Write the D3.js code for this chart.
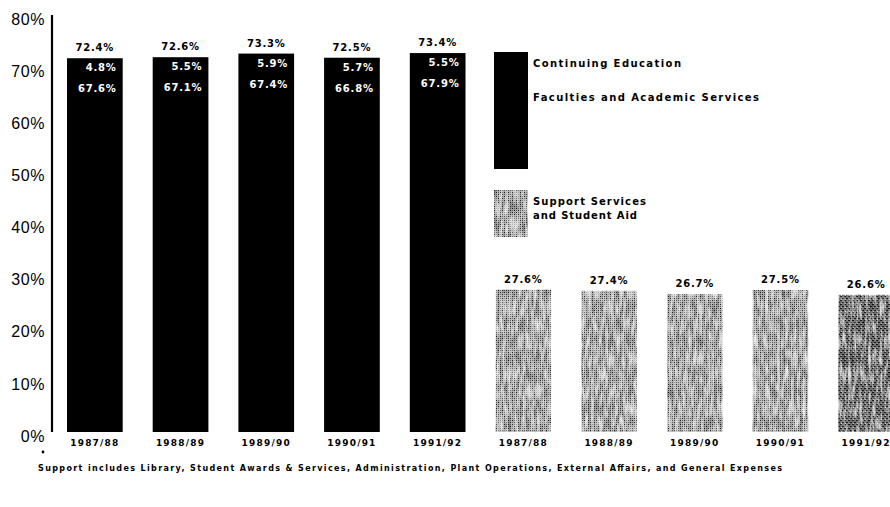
<!DOCTYPE html>
<html>
<head>
<meta charset="utf-8">
<script src="https://cdn.jsdelivr.net/npm/d3@7"></script>
<style>
  body { margin: 0; background: #fff; }
  svg { display: block; font-family: "DejaVu Sans", sans-serif; }
</style>
</head>
<body>
<svg id="chart"></svg>
<script>
var width = 890,
    height = 507,
    margin = {top: 19, left: 52, bottom: 75};

// data
let years = ["1987/88", "1988/89", "1989/90", "1990/91", "1991/92"];
let continuing = [4.8, 5.5, 5.9, 5.7, 5.5];
let faculties = [67.6, 67.1, 67.4, 66.8, 67.9];
let academicTotal = [72.4, 72.6, 73.3, 72.5, 73.4];
let support = [27.6, 27.4, 26.7, 27.5, 26.6];
let yTicks = [0, 10, 20, 30, 40, 50, 60, 70, 80];
let footnote = "Support includes Library, Student Awards & Services, Administration, Plant Operations, External Affairs, and General Expenses";

let svg = d3.select("#chart")
    .attr("width", width)
    .attr("height", height);

// stipple pattern for support bars
let defs = svg.append("defs");
let pat = defs.append("pattern")
    .attr("id", "stipple")
    .attr("width", 4).attr("height", 4)
    .attr("patternUnits", "userSpaceOnUse");
pat.append("rect").attr("width", 4).attr("height", 4).attr("fill", "#bdbdbd");
pat.append("rect").attr("width", 1).attr("height", 1).attr("fill", "#222");
pat.append("rect").attr("x", 2).attr("y", 2).attr("width", 1).attr("height", 1).attr("fill", "#222");
pat.append("rect").attr("x", 2).attr("y", 0).attr("width", 1).attr("height", 1).attr("fill", "#666");
pat.append("rect").attr("x", 0).attr("y", 2).attr("width", 1).attr("height", 1).attr("fill", "#666");
let pat2 = defs.append("pattern")
    .attr("id", "stippleDark")
    .attr("width", 4).attr("height", 4)
    .attr("patternUnits", "userSpaceOnUse");
pat2.append("rect").attr("width", 4).attr("height", 4).attr("fill", "#7a7a7a");
pat2.append("rect").attr("width", 2).attr("height", 1).attr("fill", "#1a1a1a");
pat2.append("rect").attr("x", 2).attr("y", 2).attr("width", 2).attr("height", 1).attr("fill", "#1a1a1a");
pat2.append("rect").attr("x", 1).attr("y", 3).attr("width", 1).attr("height", 1).attr("fill", "#ccc");

// streaky grain on top of the stipple
let flt = defs.append("filter").attr("id", "grain")
    .attr("x", 0).attr("y", 0).attr("width", 1).attr("height", 1);
flt.append("feTurbulence")
    .attr("type", "fractalNoise")
    .attr("baseFrequency", "0.35 0.06")
    .attr("numOctaves", 3)
    .attr("seed", 11)
    .attr("result", "noise");
flt.append("feColorMatrix")
    .attr("in", "noise")
    .attr("type", "matrix")
    .attr("values", "0 0 0 0 1  0 0 0 0 1  0 0 0 0 1  -1.8 0 0 0 0.95")
    .attr("result", "light");
flt.append("feColorMatrix")
    .attr("in", "noise")
    .attr("type", "matrix")
    .attr("values", "0 0 0 0 0  0 0 0 0 0  0 0 0 0 0  1.8 0 0 0 -0.95")
    .attr("result", "dark");
let merge = flt.append("feMerge").attr("result", "merged");
merge.append("feMergeNode").attr("in", "SourceGraphic");
merge.append("feMergeNode").attr("in", "light");
merge.append("feMergeNode").attr("in", "dark");
flt.append("feComposite").attr("in", "merged").attr("in2", "SourceGraphic").attr("operator", "in");

let keys = years.map(d => "A" + d).concat(years.map(d => "S" + d));

let x = d3.scaleBand()
    .domain(keys)
    .range([margin.left, margin.left + 857])
    .paddingInner(0.35)
    .paddingOuter(0.175);

let y = d3.scaleLinear()
    .domain([0, 80])
    .range([height - margin.bottom, margin.top]);

// tick labels sit a touch lower than the bar scale near the bottom
let yLab = d3.scaleLinear()
    .domain([0, 80])
    .range([height - margin.bottom + 4, margin.top]);

// y axis
let yAxis = svg.append("g")
    .attr("transform", `translate(${margin.left}, 0)`)
    .call(d3.axisLeft(yLab).tickValues(yTicks).tickFormat(d => d + "%").tickSize(0).tickPadding(7));
yAxis.select(".domain").remove();
yAxis.selectAll("text")
    .attr("font-size", 16)
    .attr("letter-spacing", 0.6)
    .attr("fill", "#000");
svg.append("line")
    .attr("x1", margin.left).attr("x2", margin.left)
    .attr("y1", y(0)).attr("y2", margin.top - 4)
    .attr("stroke", "#000")
    .attr("stroke-width", 2.2);

// academic bars
let acad = years.map((d, i) => ({key: "A" + d, year: d, total: academicTotal[i], ce: continuing[i], fac: faculties[i]}));
let sup = years.map((d, i) => ({key: "S" + d, year: d, value: support[i], i: i}));

svg.append("g").selectAll("rect")
    .data(acad)
    .join("rect")
    .attr("x", d => x(d.key))
    .attr("y", d => y(d.total))
    .attr("width", x.bandwidth())
    .attr("height", d => y(0) - y(d.total))
    .attr("fill", "#000");

svg.append("g").selectAll("rect")
    .data(sup)
    .join("rect")
    .attr("x", d => x(d.key))
    .attr("y", d => y(d.value))
    .attr("width", x.bandwidth())
    .attr("height", d => y(0) - y(d.value))
    .attr("fill", d => d.i == 4 ? "url(#stippleDark)" : "url(#stipple)")
    .attr("filter", "url(#grain)");

// labels on top
let topLabels = svg.append("g")
    .attr("font-size", 10)
    .attr("font-weight", "bold")
    .attr("letter-spacing", 0.8)
    .attr("text-anchor", "middle");
topLabels.selectAll(".ta")
    .data(acad)
    .join("text")
    .attr("class", "ta")
    .attr("x", d => x(d.key) + x.bandwidth() / 2)
    .attr("y", d => y(d.total) - 7)
    .text(d => d.total.toFixed(1) + "%");
topLabels.selectAll(".ts")
    .data(sup)
    .join("text")
    .attr("class", "ts")
    .attr("x", d => x(d.key) + x.bandwidth() / 2)
    .attr("y", d => y(d.value) - 7)
    .text(d => d.value.toFixed(1) + "%");

// labels inside academic bars
let inside = svg.append("g")
    .attr("font-size", 10)
    .attr("font-weight", "bold")
    .attr("letter-spacing", 0.8)
    .attr("fill", "#fff")
    .attr("text-anchor", "end");
inside.selectAll(".ce")
    .data(acad)
    .join("text")
    .attr("class", "ce")
    .attr("x", d => x(d.key) + x.bandwidth() - 6)
    .attr("y", d => y(d.total) + 13)
    .text(d => d.ce.toFixed(1) + "%");
inside.selectAll(".fac")
    .data(acad)
    .join("text")
    .attr("class", "fac")
    .attr("x", d => x(d.key) + x.bandwidth() - 6)
    .attr("y", d => y(d.total) + 34)
    .text(d => d.fac.toFixed(1) + "%");

// x labels
svg.append("g")
    .attr("font-size", 9)
    .attr("font-weight", "bold")
    .attr("letter-spacing", 1.2)
    .attr("text-anchor", "middle")
    .selectAll("text")
    .data(acad.concat(sup))
    .join("text")
    .attr("x", d => x(d.key) + x.bandwidth() / 2)
    .attr("y", 446)
    .text(d => d.year);

// legend
let lg = svg.append("g");
lg.append("rect").attr("x", 494).attr("y", 52).attr("width", 34).attr("height", 117).attr("fill", "#000");
lg.append("rect").attr("x", 494).attr("y", 190).attr("width", 34).attr("height", 47)
    .attr("fill", "url(#stipple)").attr("filter", "url(#grain)");
let legendText = [
    {t: "Continuing Education", y: 67, len: 148},
    {t: "Faculties and Academic Services", y: 101, len: 226},
    {t: "Support Services", y: 205, len: 113},
    {t: "and Student Aid", y: 219, len: 104}
];
lg.selectAll("text")
    .data(legendText)
    .join("text")
    .attr("x", 533)
    .attr("y", d => d.y)
    .attr("font-size", 10)
    .attr("font-weight", 600)
    .attr("textLength", d => d.len)
    .attr("lengthAdjust", "spacing")
    .text(d => d.t);

// footnote
svg.append("circle").attr("cx", 43).attr("cy", 452).attr("r", 1.4).attr("fill", "#000");
svg.append("text")
    .attr("x", 38)
    .attr("y", 471)
    .attr("font-size", 8)
    .attr("font-weight", "bold")
    .attr("textLength", 744)
    .attr("lengthAdjust", "spacing")
    .text(footnote);
</script>
</body>
</html>
